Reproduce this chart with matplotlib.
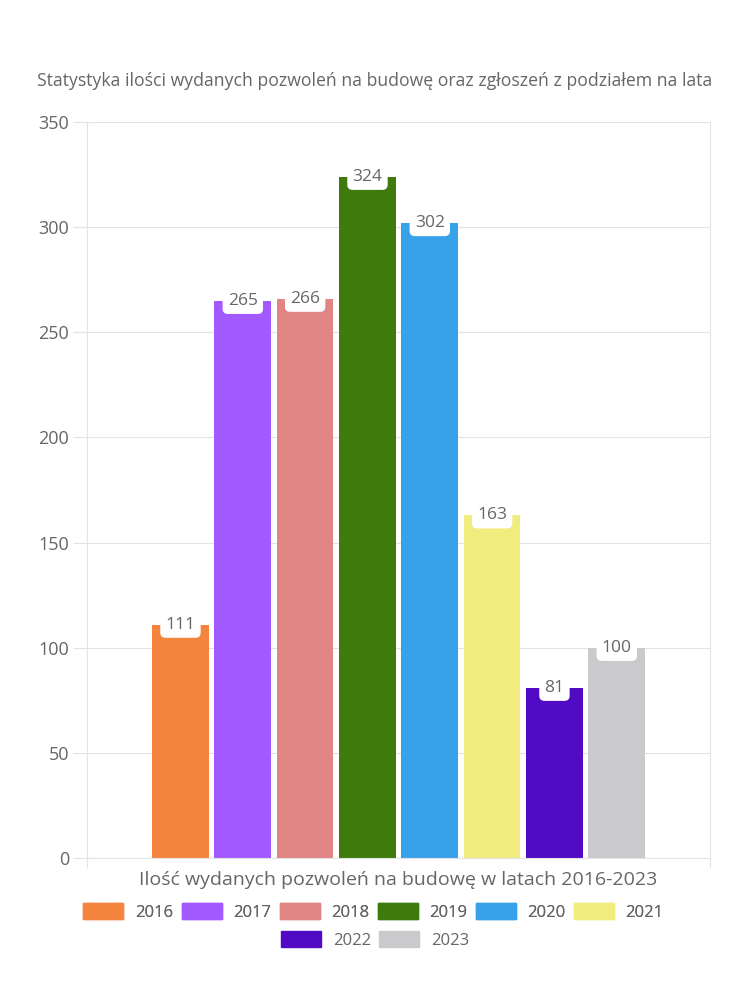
import matplotlib
matplotlib.use("Agg")
import matplotlib.pyplot as plt
import numpy as np

# Dane z wykresu
years = ["2016", "2017", "2018", "2019", "2020", "2021", "2022", "2023"]
permits = [111, 265, 266, 324, 302, 163, 81, 100]
colors = ["#F5843F", "#A259FF", "#E08484", "#3E7B0C", "#37A2EA", "#F0EC7E", "#520BC5", "#CACACD"]

plt.rcParams["font.family"] = ["Open Sans", "DejaVu Sans"]
text_col = "#666666"
grid_col = "#e3e3e3"

fig = plt.figure(figsize=(7.5, 10), dpi=100)
ax = fig.add_axes([0.116, 0.142, 0.831, 0.736])

pitch = 1.0
width = 0.91
n = len(years)
xs = (np.arange(n) - (n - 1) / 2) * pitch
ax.bar(xs, permits, width=width, color=colors, zorder=2)

# Etykiety wartosci
for x, v in zip(xs, permits):
    ax.text(x, v, str(v), ha="center", va="center", fontsize=12.5, color=text_col, zorder=3,
            bbox=dict(boxstyle="round,pad=0.3,rounding_size=0.3", fc="white", ec="none"))

half = (n * pitch) / 2 / 0.80
ax.set_xlim(-half, half)
ax.set_ylim(0, 350)
ax.set_yticks(range(0, 351, 50))
ax.set_xticks([-half, half])
ax.set_xticklabels(["", ""])
ax.tick_params(axis="y", length=10, color=grid_col, labelsize=13, labelcolor=text_col, pad=3)
ax.tick_params(axis="x", length=7, color=grid_col)
ax.grid(axis="y", color=grid_col, linewidth=0.8, zorder=0)
for s in ax.spines.values():
    s.set_color(grid_col)
    s.set_linewidth(0.8)
ax.spines["top"].set_visible(False)

fig.text(0.5, 0.919, "Statystyka ilości wydanych pozwoleń na budowę oraz zgłoszeń z podziałem na lata",
         ha="center", va="center", fontsize=12.7, color=text_col)
fig.text(0.531, 0.12, "Ilość wydanych pozwoleń na budowę w latach 2016-2023",
         ha="center", va="center", fontsize=14, color=text_col)

# Legenda w dwoch wierszach
handles = [plt.Rectangle((0, 0), 1, 1, color=c) for c in colors]
kw = dict(frameon=False, fontsize=12, handlelength=2.4, handleheight=1.1,
          columnspacing=0.5, handletextpad=0.7, labelcolor=text_col)
leg1 = fig.legend(handles[:6], years[:6], loc="center", bbox_to_anchor=(0.498, 0.088), ncol=6, **kw)
leg2 = fig.legend(handles[6:], years[6:], loc="center", bbox_to_anchor=(0.5, 0.06), ncol=2, **kw)
fig.add_artist(leg1)

fig.savefig("out.png", dpi=100, facecolor="white")
